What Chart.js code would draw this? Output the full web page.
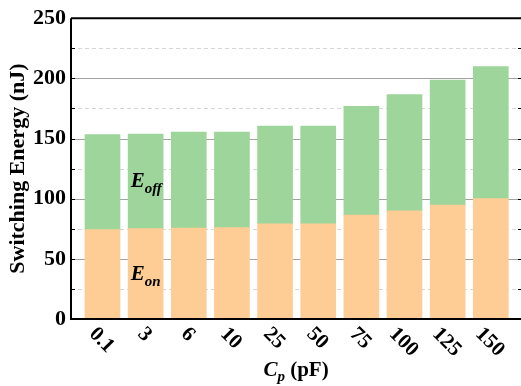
<!DOCTYPE html>
<html>
<head>
<meta charset="utf-8">
<script src="https://cdn.jsdelivr.net/npm/chart.js@4/dist/chart.umd.min.js"></script>
<style>
  html, body { margin: 0; padding: 0; background: #fff; }
  #wrap { width: 521px; height: 386px; }
</style>
</head>
<body>
<div id="wrap"><canvas id="c" width="521" height="386"></canvas></div>
<script>
// Parasitic capacitance values (pF) and switching energies (nJ)
const categories = ['0.1', '3', '6', '10', '25', '50', '75', '100', '125', '150'];
const eOn  = [74.3, 75.1, 75.6, 75.9, 79.2, 79.2, 86.4, 89.9, 94.6, 100.1];
const eOff = [78.9, 78.6, 79.8, 79.5, 81.1, 81.1, 90.4, 96.6, 104.0, 109.7];
const yTicks = [0, 50, 100, 150, 200, 250];

const SERIF = "'Liberation Serif', 'Times New Roman', serif";
const ORANGE = '#FECC95';
const GREEN = '#9DD59B';

const toPoints = arr => arr.map((v, i) => ({ x: i, y: v }));

// Grid, frame, rotated category labels and annotations
const decor = {
  id: 'decor',
  beforeDatasetsDraw(chart) {
    const { ctx, chartArea: a, scales: { y } } = chart;
    ctx.save();
    for (let v = 25; v < 250; v += 25) {
      const py = Math.round(y.getPixelForValue(v)) + 0.5;
      const major = v % 50 === 0;
      ctx.beginPath();
      ctx.setLineDash(major ? [] : [4, 3]);
      ctx.strokeStyle = major ? '#a3a3a3' : '#d6d6d6';
      ctx.lineWidth = 1;
      ctx.moveTo(a.left, py);
      ctx.lineTo(a.right, py);
      ctx.stroke();
    }
    ctx.restore();
  },
  afterDatasetsDraw(chart) {
    const { ctx, chartArea: a, scales: { x, y } } = chart;
    ctx.save();
    ctx.setLineDash([]);
    ctx.strokeStyle = '#000';
    // inward tick marks
    ctx.lineWidth = 1;
    for (let v = 25; v < 250; v += 25) {
      const py = Math.round(y.getPixelForValue(v)) + 0.5;
      ctx.beginPath();
      ctx.moveTo(a.left, py); ctx.lineTo(a.left + 4, py);
      ctx.moveTo(a.right, py); ctx.lineTo(a.right - 3, py);
      ctx.stroke();
    }
    // frame: left, bottom, top
    ctx.lineWidth = 2;
    ctx.beginPath();
    ctx.moveTo(a.left, a.top);
    ctx.lineTo(a.left, a.bottom);
    ctx.lineTo(a.right, a.bottom);
    ctx.moveTo(a.left, a.top);
    ctx.lineTo(a.right, a.top);
    ctx.stroke();
    ctx.restore();
  },
  afterDraw(chart) {
    const { ctx, chartArea: a, scales: { x, y } } = chart;
    ctx.save();
    ctx.fillStyle = '#000';
    // category labels rotated 45 degrees clockwise
    ctx.font = 'bold 21px ' + SERIF;
    ctx.textAlign = 'center';
    ctx.textBaseline = 'middle';
    categories.forEach((lab, i) => {
      const px = x.getPixelForValue(i);
      const w = ctx.measureText(lab).width;
      const cy = a.bottom + 12 + w * 0.7071 / 2;
      ctx.save();
      ctx.translate(px - 1, cy);
      ctx.rotate(Math.PI / 4);
      ctx.fillText(lab, 0, 0);
      ctx.restore();
    });

    // x axis title: C_p (pF)
    ctx.textBaseline = 'alphabetic';
    ctx.textAlign = 'left';
    const big = 'bold 21px ' + SERIF;
    const bigIt = 'italic bold 21px ' + SERIF;
    const sub = 'italic bold 15px ' + SERIF;
    const parts = [
      { t: 'C', f: bigIt, dy: 0 },
      { t: 'p', f: sub, dy: 5 },
      { t: ' (pF)', f: big, dy: 0 }
    ];
    let total = 0;
    parts.forEach(p => { ctx.font = p.f; p.w = ctx.measureText(p.t).width; total += p.w; });
    let tx = (a.left + a.right) / 2 - total / 2;
    const base = 376;
    parts.forEach(p => { ctx.font = p.f; ctx.fillText(p.t, tx, base + p.dy); tx += p.w; });

    // series annotations inside the bars
    const label = (main, subTxt, xv, yv) => {
      const px = x.getPixelForValue(xv) - 15;
      const py = y.getPixelForValue(yv);
      ctx.font = bigIt;
      ctx.fillText(main, px, py);
      const mw = ctx.measureText(main).width;
      ctx.font = sub;
      ctx.fillText(subTxt, px + mw, py + 6);
    };
    label('E', 'off', 1, 110);
    label('E', 'on', 1, 32);
    ctx.restore();
  }
};

new Chart(document.getElementById('c'), {
  type: 'bar',
  data: {
    datasets: [
      { label: 'E_on', data: toPoints(eOn), backgroundColor: ORANGE, borderWidth: 0, barThickness: 35 },
      { label: 'E_off', data: toPoints(eOff), backgroundColor: GREEN, borderWidth: 0, barThickness: 35 }
    ]
  },
  options: {
    responsive: false,
    devicePixelRatio: 1,
    animation: false,
    layout: { padding: { top: 16, right: 0, left: 0, bottom: 0 } },
    plugins: { legend: { display: false }, tooltip: { enabled: false } },
    scales: {
      x: {
        type: 'linear',
        stacked: true,
        offset: false,
        min: -0.73,
        max: 9.7,
        grid: { display: false, offset: false },
        border: { display: false },
        ticks: { display: false },
        afterFit(s) { s.height = 67; }
      },
      y: {
        stacked: true,
        min: 0,
        max: 250,
        grid: { display: false, drawTicks: false },
        border: { display: false },
        afterBuildTicks(s) { s.ticks = yTicks.map(v => ({ value: v })); },
        ticks: {
          color: '#000',
          padding: 5,
          font: { family: SERIF, size: 22, weight: 'bold' }
        },
        title: {
          display: true,
          text: 'Switching Energy (nJ)',
          color: '#000',
          padding: { top: 5, bottom: 0 },
          font: { family: SERIF, size: 22, weight: 'bold' }
        },
        afterFit(s) { s.width = 71; }
      }
    }
  },
  plugins: [decor]
});
</script>
</body>
</html>
